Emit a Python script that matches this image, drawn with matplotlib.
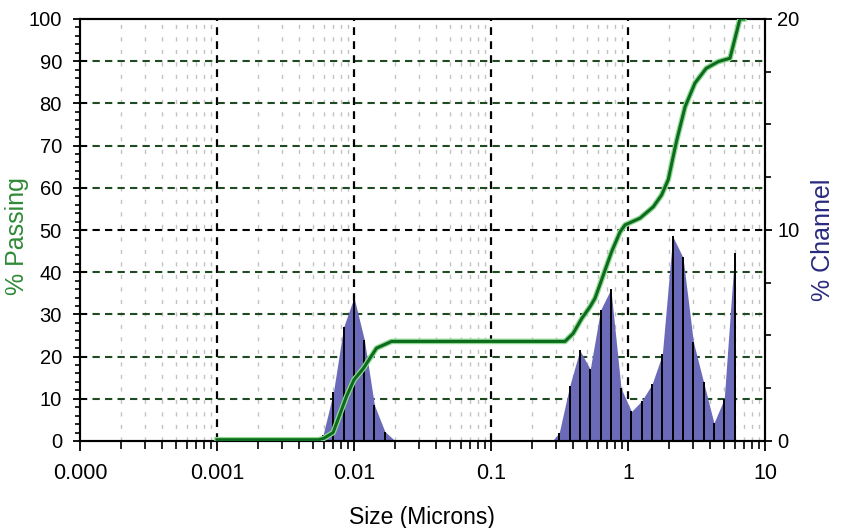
import matplotlib
matplotlib.use("Agg")
import matplotlib.pyplot as plt
import matplotlib.patheffects as pe
from matplotlib.ticker import FixedLocator, FixedFormatter, LogLocator, NullFormatter, MultipleLocator

plt.rcParams['font.family'] = ['Liberation Sans', 'DejaVu Sans']

# cumulative % passing
size_pass = [0.001, 0.0055, 0.006, 0.00704, 0.0088, 0.01, 0.0117, 0.0146, 0.0188, 0.347,
             0.398, 0.459, 0.528, 0.574, 0.66, 0.76, 0.874, 0.951, 1.224, 1.53, 1.76,
             1.97, 2.14, 2.27, 2.61, 3.08, 3.72, 4.56, 5.55, 6.04, 6.56, 7.0]
passing = [0.3, 0.3, 0.6, 2.0, 10.5, 14.5, 17.2, 22.0, 23.6, 23.6,
           25.5, 29.0, 31.8, 33.8, 39.3, 44.9, 49.5, 51.2, 52.8, 55.5, 58.3,
           62.0, 67.5, 71.3, 79.2, 84.8, 88.3, 89.9, 90.7, 95.4, 100.0, 100.0]

# % channel, fine mode
size_a = [0.0055, 0.00595, 0.00707, 0.0084, 0.01, 0.0119, 0.0141, 0.0168, 0.02]
chan_a = [0, 0.3, 2.3, 5.4, 6.8, 4.8, 1.7, 0.45, 0]
# % channel, coarse modes
size_b = [0.28, 0.315, 0.375, 0.445, 0.53, 0.63, 0.75, 0.89, 1.06, 1.26, 1.5,
          1.78, 2.12, 2.52, 3.0, 3.56, 4.24, 5.04, 6.0, 6.1]
chan_b = [0, 0.4, 2.6, 4.3, 3.4, 6.2, 7.2, 2.5, 1.4, 1.9, 2.7,
          4.1, 9.7, 8.7, 4.7, 2.8, 0.85, 2.0, 8.9, 0]

xticks = [0.0001, 0.001, 0.01, 0.1, 1, 10]
xlabels = ['0.000', '0.001', '0.01', '0.1', '1', '10']

fig = plt.figure(figsize=(8.41, 5.28), dpi=100)
ax = fig.add_axes([80/841, 1-441/528, 685/841, 422/528])
ax2 = ax.twinx()
ax.set_zorder(ax2.get_zorder() + 1)
ax.patch.set_visible(False)

ax.set_xscale('log')
ax.set_xlim(1e-4, 10)
ax.set_ylim(0, 100)
ax2.set_ylim(0, 20)

# grid drawn on the back axes so the histogram covers it
for d in [1e-4, 1e-3, 1e-2, 1e-1, 1]:
    for m in range(2, 10):
        ax2.axvline(d*m, color='#c2c2c2', lw=1, ls=(0, (3, 6)), zorder=0)
for d in [1e-3, 1e-2, 1e-1, 1]:
    ax2.axvline(d, color='black', lw=1.6, ls=(0, (3.5, 2.8)), zorder=1)
for v in range(10, 100, 10):
    c = 'black' if v == 50 else '#1f4a22'
    ax2.axhline(v/5, color=c, lw=1.5, ls=(0, (3.5, 2.5)), zorder=1)

blue = '#6a6ab9'
ax2.fill_between(size_a, chan_a, color=blue, lw=0, zorder=2)
ax2.fill_between(size_b, chan_b, color=blue, lw=0, zorder=2)
ax2.vlines(size_a[1:-1], 0, chan_a[1:-1], color='black', lw=1.4, zorder=3)
ax2.vlines(size_b[1:-1], 0, chan_b[1:-1], color='black', lw=1.4, zorder=3)

ax.plot(size_pass, passing, color='#0d6b1f', lw=2.2, zorder=5,
        path_effects=[pe.withStroke(linewidth=4, foreground='#8fd98f')])

# ticks
ax.xaxis.set_major_locator(FixedLocator(xticks))
ax.xaxis.set_major_formatter(FixedFormatter(xlabels))
ax.xaxis.set_minor_locator(LogLocator(base=10, subs=range(2, 10)))
ax.xaxis.set_minor_formatter(NullFormatter())
ax.yaxis.set_major_locator(MultipleLocator(10))
ax.yaxis.set_minor_locator(MultipleLocator(2))
ax2.yaxis.set_major_locator(MultipleLocator(10))
ax2.yaxis.set_minor_locator(MultipleLocator(2.5))

ax.tick_params(axis='x', which='major', direction='out', length=7, width=1.3, labelsize=15.5, pad=9)
ax.tick_params(axis='x', which='minor', direction='out', length=6, width=1.2)
ax.tick_params(axis='y', which='major', direction='inout', length=10, width=1.3, labelsize=14.5, pad=8)
ax.tick_params(axis='y', which='minor', direction='out', length=3.5, width=1.2)
ax2.tick_params(axis='y', which='major', direction='out', length=5, width=1.3, labelsize=14.5, pad=4)
ax2.tick_params(axis='y', which='minor', direction='out', length=4, width=1.2)

for a in (ax, ax2):
    for s in a.spines.values():
        s.set_linewidth(1.5)

fig.text(422/841, 1-524/528, 'Size (Microns)', fontsize=16.5, ha='center', va='baseline')
fig.text(17/841, 1-236/528, '% Passing', fontsize=18, color='#2f8a36',
         rotation=90, ha='center', va='center')
fig.text(823/841, 1-240/528, '% Channel', fontsize=18, color='#2a2a7e',
         rotation=90, ha='center', va='center')

fig.savefig('out.png', dpi=100, facecolor='white')
